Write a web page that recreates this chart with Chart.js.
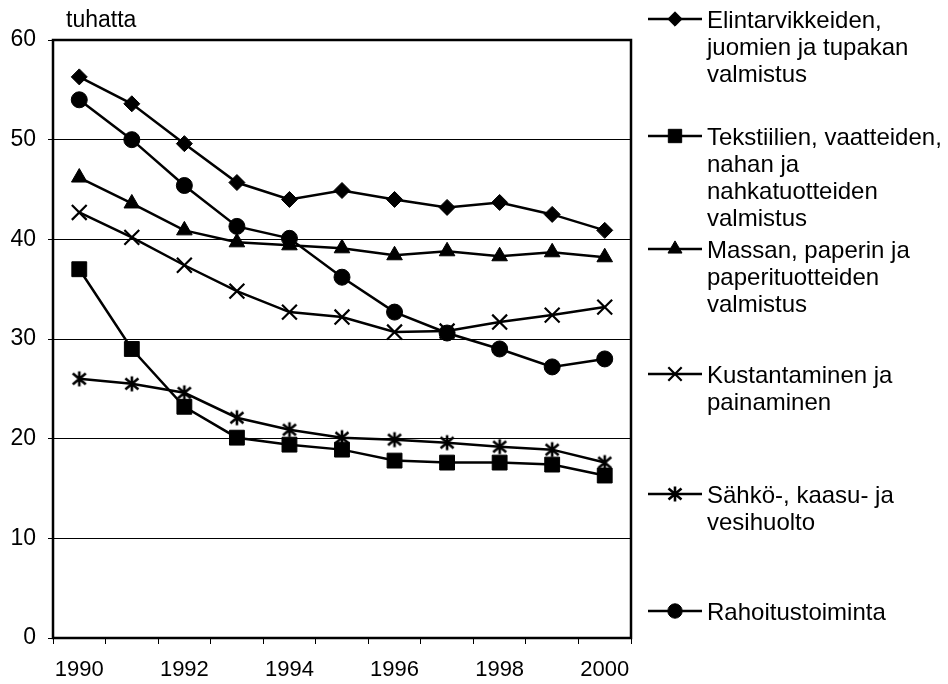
<!DOCTYPE html>
<html>
<head>
<meta charset="utf-8">
<script src="https://cdn.jsdelivr.net/npm/chart.js@4"></script>
<style>
  body { margin: 0; background: #fff; }
  canvas { display: block; }
</style>
</head>
<body>
<canvas id="kuvio" width="948" height="684"></canvas>
<script>
// vuodet ja sarjat (tuhatta henkeä)
const vuodet = ['1990', '1991', '1992', '1993', '1994', '1995', '1996', '1997', '1998', '1999', '2000'];

const elintarvike = [56.3, 53.6, 49.6, 45.7, 44.0, 44.9, 44.0, 43.2, 43.7, 42.5, 40.9];
const tekstiili   = [37.0, 29.0, 23.2, 20.1, 19.4, 18.9, 17.8, 17.6, 17.6, 17.4, 16.3];
const massa       = [46.2, 43.6, 40.9, 39.7, 39.4, 39.1, 38.4, 38.8, 38.3, 38.7, 38.2];
const kustannus   = [42.7, 40.2, 37.4, 34.8, 32.7, 32.2, 30.7, 30.8, 31.7, 32.4, 33.2];
const sahko       = [26.0, 25.5, 24.6, 22.1, 20.9, 20.1, 19.9, 19.6, 19.2, 18.9, 17.6];
const rahoitus    = [54.0, 50.0, 45.4, 41.3, 40.1, 36.2, 32.7, 30.6, 29.0, 27.2, 28.0];

const selitteet = [
  ['Elintarvikkeiden,', 'juomien ja tupakan', 'valmistus'],
  ['Tekstiilien, vaatteiden,', 'nahan ja', 'nahkatuotteiden', 'valmistus'],
  ['Massan, paperin ja', 'paperituotteiden', 'valmistus'],
  ['Kustantaminen ja', 'painaminen'],
  ['Sähkö-, kaasu- ja', 'vesihuolto'],
  ['Rahoitustoiminta']
];

const FONTTI = '"Liberation Sans", Arial, sans-serif';

// Excelin tähtimerkki (pysty + X)
const tahti = document.createElement('canvas');
tahti.width = 18; tahti.height = 18;
{
  const c = tahti.getContext('2d');
  c.strokeStyle = '#000';
  c.lineWidth = 2.6;
  c.beginPath();
  c.moveTo(9, 1.5); c.lineTo(9, 16.5);
  c.moveTo(2.5, 3.5); c.lineTo(15.5, 14.5);
  c.moveTo(15.5, 3.5); c.lineTo(2.5, 14.5);
  c.stroke();
}

const sarja = (label, data, pointStyle, radius, pbw) => ({
  label: label,
  data: data,
  borderColor: '#000',
  backgroundColor: '#000',
  pointBackgroundColor: '#000',
  pointBorderColor: '#000',
  borderWidth: 2.5,
  pointBorderWidth: pbw,
  pointStyle: pointStyle,
  pointRadius: radius,
  pointHoverRadius: radius,
  fill: false,
  tension: 0
});

const datasets = [
  sarja(selitteet[0].join(' '), elintarvike, 'rectRot', 8, 1),
  sarja(selitteet[1].join(' '), tekstiili, 'rect', 10.5, 1),
  sarja(selitteet[2].join(' '), massa, 'triangle', 9, 1),
  sarja(selitteet[3].join(' '), kustannus, 'crossRot', 10.5, 2.2),
  sarja(selitteet[4].join(' '), sahko, tahti, 8, 2),
  sarja(selitteet[5].join(' '), rahoitus, 'circle', 8, 1)
];

// kehys, otsikko ja selite piirretään itse
const kehysJaSelite = {
  id: 'kehysJaSelite',
  afterDatasetsDraw(chart) {
    const ctx = chart.ctx;
    const a = chart.chartArea;
    ctx.save();
    ctx.strokeStyle = '#000';
    ctx.lineWidth = 2.5;
    ctx.strokeRect(a.left, a.top, a.right - a.left, a.bottom - a.top);

    ctx.fillStyle = '#000';
    ctx.font = '23px ' + FONTTI;
    ctx.textBaseline = 'alphabetic';
    ctx.textAlign = 'left';
    ctx.fillText('tuhatta', 66, 27);

    const alut = [28, 145, 258, 383, 503, 620];
    ctx.font = '24px ' + FONTTI;
    chart.data.datasets.forEach((ds, i) => {
      const y0 = alut[i];
      const ly = y0 - 9;
      ctx.strokeStyle = '#000';
      ctx.lineWidth = 2.5;
      ctx.beginPath();
      ctx.moveTo(648, ly);
      ctx.lineTo(702, ly);
      ctx.stroke();
      const opts = {
        pointStyle: ds.pointStyle,
        radius: ds.pointRadius * 0.9,
        borderWidth: ds.pointBorderWidth,
        rotation: 0
      };
      ctx.fillStyle = '#000';
      ctx.strokeStyle = '#000';
      ctx.lineWidth = ds.pointBorderWidth;
      Chart.helpers.drawPoint(ctx, opts, 675, ly);
      ctx.fillStyle = '#000';
      selitteet[i].forEach((rivi, j) => {
        ctx.fillText(rivi, 707, y0 + j * 27);
      });
    });
    ctx.restore();
  }
};

new Chart(document.getElementById('kuvio').getContext('2d'), {
  type: 'line',
  data: { labels: vuodet, datasets: datasets },
  plugins: [kehysJaSelite],
  options: {
    responsive: false,
    animation: false,
    layout: { padding: { left: 0, top: 40, right: 317, bottom: 0 } },
    plugins: {
      legend: { display: false },
      tooltip: { enabled: false }
    },
    scales: {
      x: {
        type: 'category',
        offset: true,
        afterFit: (s) => { s.height = 46; },
        border: { display: false },
        grid: {
          offset: true,
          drawOnChartArea: false,
          drawTicks: true,
          tickLength: 6,
          color: '#000',
          lineWidth: 1
        },
        ticks: {
          autoSkip: false,
          maxRotation: 0,
          padding: 13,
          color: '#000',
          font: { family: FONTTI, size: 22 },
          callback: function (v, i) { return i % 2 === 0 ? this.getLabelForValue(v) : ''; }
        }
      },
      y: {
        min: 0,
        max: 60,
        afterFit: (s) => { s.width = 53; },
        border: { display: false },
        grid: {
          color: '#000',
          lineWidth: 1,
          tickLength: 5
        },
        ticks: {
          stepSize: 10,
          padding: 12,
          color: '#000',
          font: { family: FONTTI, size: 23 }
        }
      }
    }
  }
});
</script>
</body>
</html>
